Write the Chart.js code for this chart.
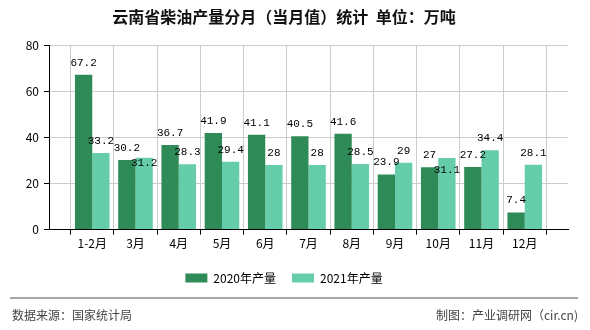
<!DOCTYPE html>
<html>
<head>
<meta charset="utf-8">
<script src="https://cdn.jsdelivr.net/npm/chart.js@4"></script>
<style>
  body { margin: 0; background: #fff; }
  #wrap { width: 590px; height: 330px; }
</style>
</head>
<body>
<div id="wrap"><canvas id="myChart" width="590" height="330"></canvas></div>
<script>
// months (empty labels pad the axis at both ends like the original)
var months = ['', '1-2月', '3月', '4月', '5月', '6月', '7月', '8月', '9月', '10月', '11月', '12月', ''];
var output2020 = [null, 67.2, 30.2, 36.7, 41.9, 41.1, 40.5, 41.6, 23.9, 27, 27.2, 7.4, null];
var output2021 = [null, 33.2, 31.2, 28.3, 29.4, 28, 28, 28.5, 29, 31.1, 34.4, 28.1, null];
var yTicks = [0, 20, 40, 60, 80];

var cjk = "'Noto Sans CJK SC', 'Noto Sans', sans-serif";

// value labels above each bar; a second-series label that would sit on top
// of the first-series label of the same month is pushed down below it
var barLabels =
{
    id: 'barLabels',
    afterDatasetsDraw: function (chart)
    {
        var ctx = chart.ctx;
        ctx.save();
        ctx.font = "11px 'Liberation Mono', monospace";
        ctx.fillStyle = '#000';
        ctx.textAlign = 'center';
        ctx.textBaseline = 'middle';
        var placed = [];
        chart.data.datasets.forEach(function (ds, i)
        {
            var meta = chart.getDatasetMeta(i);
            meta.data.forEach(function (bar, j)
            {
                if (ds.data[j] === null) return;
                var text = String(ds.data[j]);
                var w = ctx.measureText(text).width;
                var y = bar.y - 12;
                var prev = placed[j];
                if (prev && Math.abs(prev.y - y) < 11 && bar.x - w / 2 < prev.x + prev.w / 2)
                {
                    y = prev.y + 15;
                }
                if (i === 0) placed[j] = { x: bar.x, y: y, w: w };
                ctx.fillText(text, bar.x, y);
            });
        });
        ctx.restore();
    }
};

// source line at the bottom
var footer =
{
    id: 'footer',
    afterDraw: function (chart)
    {
        var ctx = chart.ctx;
        ctx.save();
        ctx.strokeStyle = '#888';
        ctx.lineWidth = 1.5;
        ctx.beginPath();
        ctx.moveTo(10, 298);
        ctx.lineTo(578, 298);
        ctx.stroke();
        ctx.font = '12px ' + cjk;
        ctx.fillStyle = '#444';
        ctx.textBaseline = 'middle';
        ctx.textAlign = 'left';
        ctx.fillText('数据来源：国家统计局', 12, 315);
        ctx.textAlign = 'right';
        ctx.fillText('制图：产业调研网（cir.cn)', 578, 315);
        ctx.restore();
    }
};

const data =
{
    labels: months,
    datasets:
    [
        {
            label: '2020年产量',
            data: output2020,
            backgroundColor: '#2e8b57',
            categoryPercentage: 0.8,
            barPercentage: 1.0
        },
        {
            label: '2021年产量',
            data: output2021,
            backgroundColor: '#66cdaa',
            categoryPercentage: 0.8,
            barPercentage: 1.0
        }
    ]
};

const config =
{
    type: 'bar',
    data: data,
    plugins: [barLabels, footer],
    options:
    {
        responsive: false,
        animation: false,
        layout: { padding: { left: 0, right: 22, top: 0, bottom: 36 } },
        plugins:
        {
            title:
            {
                display: true,
                text: '云南省柴油产量分月（当月值）统计  单位：万吨',
                color: '#111',
                font: { family: cjk, size: 16, weight: 'bold' },
                padding: { top: 7, bottom: 19 }
            },
            legend:
            {
                position: 'bottom',
                labels:
                {
                    boxWidth: 22,
                    boxHeight: 9,
                    padding: 16,
                    color: '#000',
                    font: { family: cjk, size: 12 }
                }
            },
            tooltip: { enabled: false }
        },
        scales:
        {
            x:
            {
                offset: false,
                afterFit: function (scale) { scale.height += 3; },
                grid: { color: '#ccc', tickColor: '#000', tickLength: 5 },
                border: { color: '#000', width: 1 },
                ticks: { color: '#000', font: { family: cjk, size: 12 }, padding: 2, autoSkip: false, maxRotation: 0 }
            },
            y:
            {
                min: 0,
                max: 80,
                afterBuildTicks: function (scale)
                {
                    scale.ticks = yTicks.map(function (v) { return { value: v }; });
                },
                afterFit: function (scale) { scale.width = 49; },
                grid: { color: '#ccc', tickColor: '#000', tickLength: 5 },
                border: { color: '#000', width: 1 },
                ticks: { color: '#000', font: { family: cjk, size: 12 }, padding: 5 }
            }
        }
    }
};

const ctx = document.getElementById('myChart').getContext('2d');
if (ctx) {
    const myChart = new Chart(ctx, config);
} else {
    console.error('Element with ID "myChart" not found.');
}
</script>
</body>
</html>
